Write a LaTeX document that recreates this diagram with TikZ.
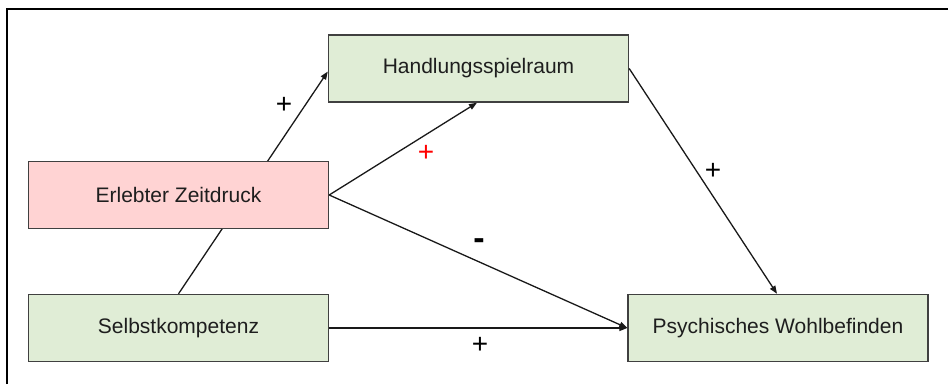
\documentclass[tikz,border=0pt]{standalone}
\usepackage{fontspec}
\setmainfont{Liberation Sans}
\usetikzlibrary{arrows.meta,backgrounds}
\definecolor{boxgreen}{HTML}{E0EDD6}
\definecolor{boxpink}{HTML}{FFD3D3}
\definecolor{boxedge}{HTML}{404040}
\definecolor{txt}{HTML}{1E1E1E}
\tikzset{
  var/.style={draw=boxedge, line width=1.4pt, rectangle, inner sep=0pt,
    text=txt, font=\fontsize{21}{25}\selectfont},
  wide/.style={minimum width=300pt, minimum height=67pt},
  link/.style={line width=1.3pt, draw=black!90,
    -{Triangle[length=8pt,width=6pt]}},
  sign/.style={font=\fontsize{28}{30}\selectfont, text=black, inner sep=0pt},
  minus/.style={font=\bfseries\fontsize{34}{36}\selectfont, text=black, inner sep=0pt}
}
\begin{document}
\begin{tikzpicture}[x=1pt,y=-1pt]
  \useasboundingbox (0,0) rectangle (948,384);
  % outer frame (left and top edges lie inside the page)
  \draw[line width=2.2pt, black] (7,384) -- (7,9) -- (948,9);

  % variables
  \node[var, wide, fill=boxgreen] (hs) at (478.5,68.5) {Handlungsspielraum};
  \node[var, wide, fill=boxpink]  (ez) at (178.5,195)  {Erlebter Zeitdruck};
  \node[var, wide, fill=boxgreen] (sk) at (178.5,328)  {Selbstkompetenz};
  \node[var, wide, fill=boxgreen] (pw) at (778,328)    {Psychisches Wohlbefinden};

  % paths between the variables
  \begin{scope}[on background layer]
    \draw[link] (sk.north) -- ([yshift=-3pt]hs.west);
  \end{scope}
  \draw[link] (ez.east) -- ([xshift=-1.5pt]hs.south);
  \draw[link] (ez.east) -- (pw.west);
  \draw[link] (sk.east) -- (pw.west);
  \draw[link] (hs.east) -- ([xshift=-1pt]pw.north);

  % signs of the effects
  \node[sign] (s1) at (284,105) {+};
  \node[sign, text=red] (s2) at (426,153) {+};
  \node[minus] (s3) at (479,244) {-};
  \node[sign] (s4) at (480,345) {+};
  \node[sign] (s5) at (713,171) {+};
\end{tikzpicture}
\end{document}
